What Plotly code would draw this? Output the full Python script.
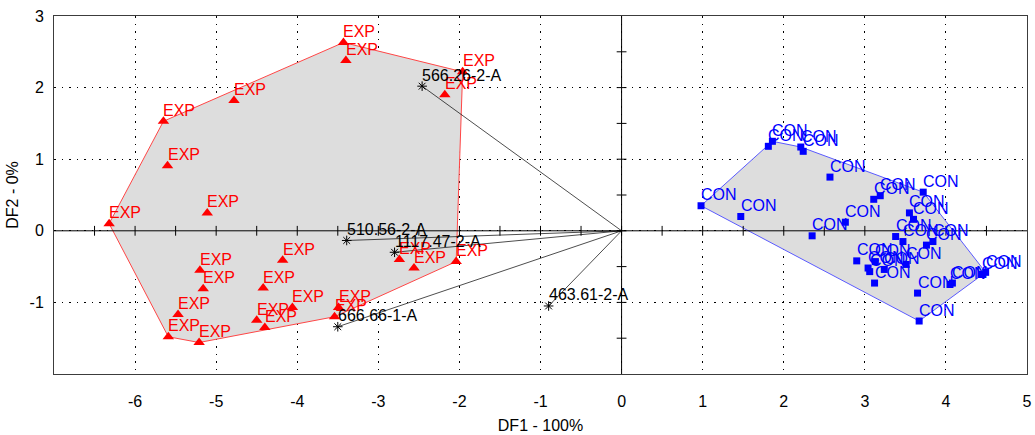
import plotly.graph_objects as go
import numpy as np

# ---------------- data ----------------
exp_x = [-3.43, -3.40, -1.96, -2.18, -4.78, -5.65, -5.60, -5.11, -6.32, -5.20, -5.16, -5.47,
         -5.59, -5.21, -4.18, -4.42, -4.06, -4.50, -4.40, -3.49, -3.54, -2.74, -2.56, -2.04]
exp_y = [2.63, 2.38, 2.22, 1.90, 1.82, 1.53, 0.91, 0.25, 0.10, -0.55, -0.81, -1.17,
         -1.48, -1.56, -0.41, -0.80, -1.07, -1.25, -1.35, -1.07, -1.20, -0.40, -0.52, -0.43]

con_x = [0.98, 1.47, 1.81, 1.86, 2.21, 2.24, 2.57, 2.76, 2.35, 3.11, 3.19, 3.72, 3.55, 3.60,
         3.38, 3.47, 3.76, 3.84, 2.90, 3.04, 3.06, 3.13, 3.24, 3.51, 3.12, 3.65, 3.67, 4.05,
         4.08, 4.44, 4.49]
con_y = [0.35, 0.20, 1.18, 1.25, 1.17, 1.11, 0.75, 0.12, -0.07, 0.44, 0.49, 0.54, 0.25, 0.16,
         -0.08, -0.15, -0.20, -0.15, -0.42, -0.52, -0.57, -0.43, -0.54, -0.47, -0.73, -0.87,
         -1.26, -0.75, -0.73, -0.61, -0.58]

load_names = ["566.26-2-A", "510.56-2-A", "1117.47-2-A", "666.66-1-A", "463.61-2-A"]
load_x = [-2.46, -3.39, -2.80, -3.50, -0.90]
load_y = [2.02, -0.135, -0.30, -1.34, -1.05]

x_ticks = [-6, -5, -4, -3, -2, -1, 0, 1, 2, 3, 4, 5]
x_tick_text = ["-6", "-5", "-4", "-3", "-2", "-1", "0", "1", "2", "3", "4", "5"]
y_ticks = [-1, 0, 1, 2, 3]
y_tick_text = ["-1", "0", "1", "2", "3"]
x_range = [-7, 5]
y_range = [-2, 3]
minor_step = 0.5

FONT = "Liberation Sans, Arial, sans-serif"


def hull(xs, ys):
    pts = sorted(set(zip(xs, ys)))
    def cross(o, a, b):
        return (a[0]-o[0])*(b[1]-o[1]) - (a[1]-o[1])*(b[0]-o[0])
    lower, upper = [], []
    for p in pts:
        while len(lower) >= 2 and cross(lower[-2], lower[-1], p) <= 0:
            lower.pop()
        lower.append(p)
    for p in reversed(pts):
        while len(upper) >= 2 and cross(upper[-2], upper[-1], p) <= 0:
            upper.pop()
        upper.append(p)
    h = lower[:-1] + upper[:-1]
    h.append(h[0])
    return [p[0] for p in h], [p[1] for p in h]


fig = go.Figure()

# hulls
hx, hy = hull(exp_x, exp_y)
fig.add_trace(go.Scatter(x=hx, y=hy, mode="lines", fill="toself",
                         fillcolor="rgb(221,221,221)",
                         line=dict(color="rgb(255,70,70)", width=1), hoverinfo="skip"))
hx, hy = hull(con_x, con_y)
fig.add_trace(go.Scatter(x=hx, y=hy, mode="lines", fill="toself",
                         fillcolor="rgb(221,221,221)",
                         line=dict(color="rgb(90,90,255)", width=1), hoverinfo="skip"))

# zero lines with small ticks
fig.add_trace(go.Scatter(x=x_range, y=[0, 0], mode="lines",
                         line=dict(color="black", width=1), hoverinfo="skip"))
fig.add_trace(go.Scatter(x=[0, 0], y=y_range, mode="lines",
                         line=dict(color="black", width=1), hoverinfo="skip"))
tx = np.arange(x_range[0] + minor_step, x_range[1], minor_step)
ty = np.arange(y_range[0] + minor_step, y_range[1], minor_step)
fig.add_trace(go.Scatter(x=tx, y=np.zeros_like(tx), mode="markers",
                         marker=dict(symbol="line-ns", size=7, color="black",
                                     line=dict(color="black", width=1)), hoverinfo="skip"))
fig.add_trace(go.Scatter(x=np.zeros_like(ty), y=ty, mode="markers",
                         marker=dict(symbol="line-ew", size=7, color="black",
                                     line=dict(color="black", width=1)), hoverinfo="skip"))

# loading vectors
lvx, lvy = [], []
for x, y in zip(load_x, load_y):
    lvx += [0, x, None]
    lvy += [0, y, None]
fig.add_trace(go.Scatter(x=lvx, y=lvy, mode="lines",
                         line=dict(color="black", width=0.7), hoverinfo="skip"))

# points
fig.add_trace(go.Scatter(x=exp_x, y=exp_y, mode="markers",
                         marker=dict(symbol="triangle-up", size=10, color="red")))
fig.add_trace(go.Scatter(x=con_x, y=con_y, mode="markers",
                         marker=dict(symbol="square", size=7, color="blue")))
fig.add_trace(go.Scatter(x=load_x, y=load_y, mode="markers",
                         marker=dict(symbol="asterisk-open", size=8, color="black",
                                     line=dict(color="black", width=1))))

# point labels (left-aligned just above each point)
annotations = []
for xs, ys, texts, col in [(exp_x, exp_y, ["EXP"] * len(exp_x), "red"),
                           (con_x, con_y, ["CON"] * len(con_x), "blue"),
                           (load_x, load_y, load_names, "black")]:
    for x, y, t in zip(xs, ys, texts):
        annotations.append(dict(x=x, y=y, text=t, showarrow=False, xanchor="left",
                                yanchor="middle", xshift=-2, yshift=11,
                                font=dict(family=FONT, size=16, color=col)))

grid = dict(showgrid=True, gridcolor="black", gridwidth=1, griddash="1.5px,6px",
            zeroline=False, showline=True, linecolor="rgb(60,60,60)", linewidth=1,
            mirror=True, ticks="", tickfont=dict(family=FONT, size=16, color="black"),
            ticklabeloverflow="allow")

fig.update_layout(
    width=1035, height=435,
    margin=dict(l=54, r=8, t=16, b=61, autoexpand=False),
    paper_bgcolor="white", plot_bgcolor="white",
    showlegend=False, hovermode=False,
    font=dict(family=FONT, size=16, color="black"),
    annotations=annotations,
    xaxis=dict(range=x_range, tickvals=x_ticks, ticktext=x_tick_text, ticklabelstandoff=13,
               automargin=False,
               title=dict(text="DF1 - 100%", font=dict(family=FONT, size=16), standoff=10),
               **grid),
    yaxis=dict(range=y_range, tickvals=y_ticks, ticktext=y_tick_text, ticklabelstandoff=6,
               automargin=False,
               title=dict(text="DF2 - 0%", font=dict(family=FONT, size=16), standoff=6),
               **grid),
)

fig.write_html("out.html", config={"displayModeBar": False, "staticPlot": True},
               post_script="document.body.style.margin='0';document.body.style.overflow='hidden';")
